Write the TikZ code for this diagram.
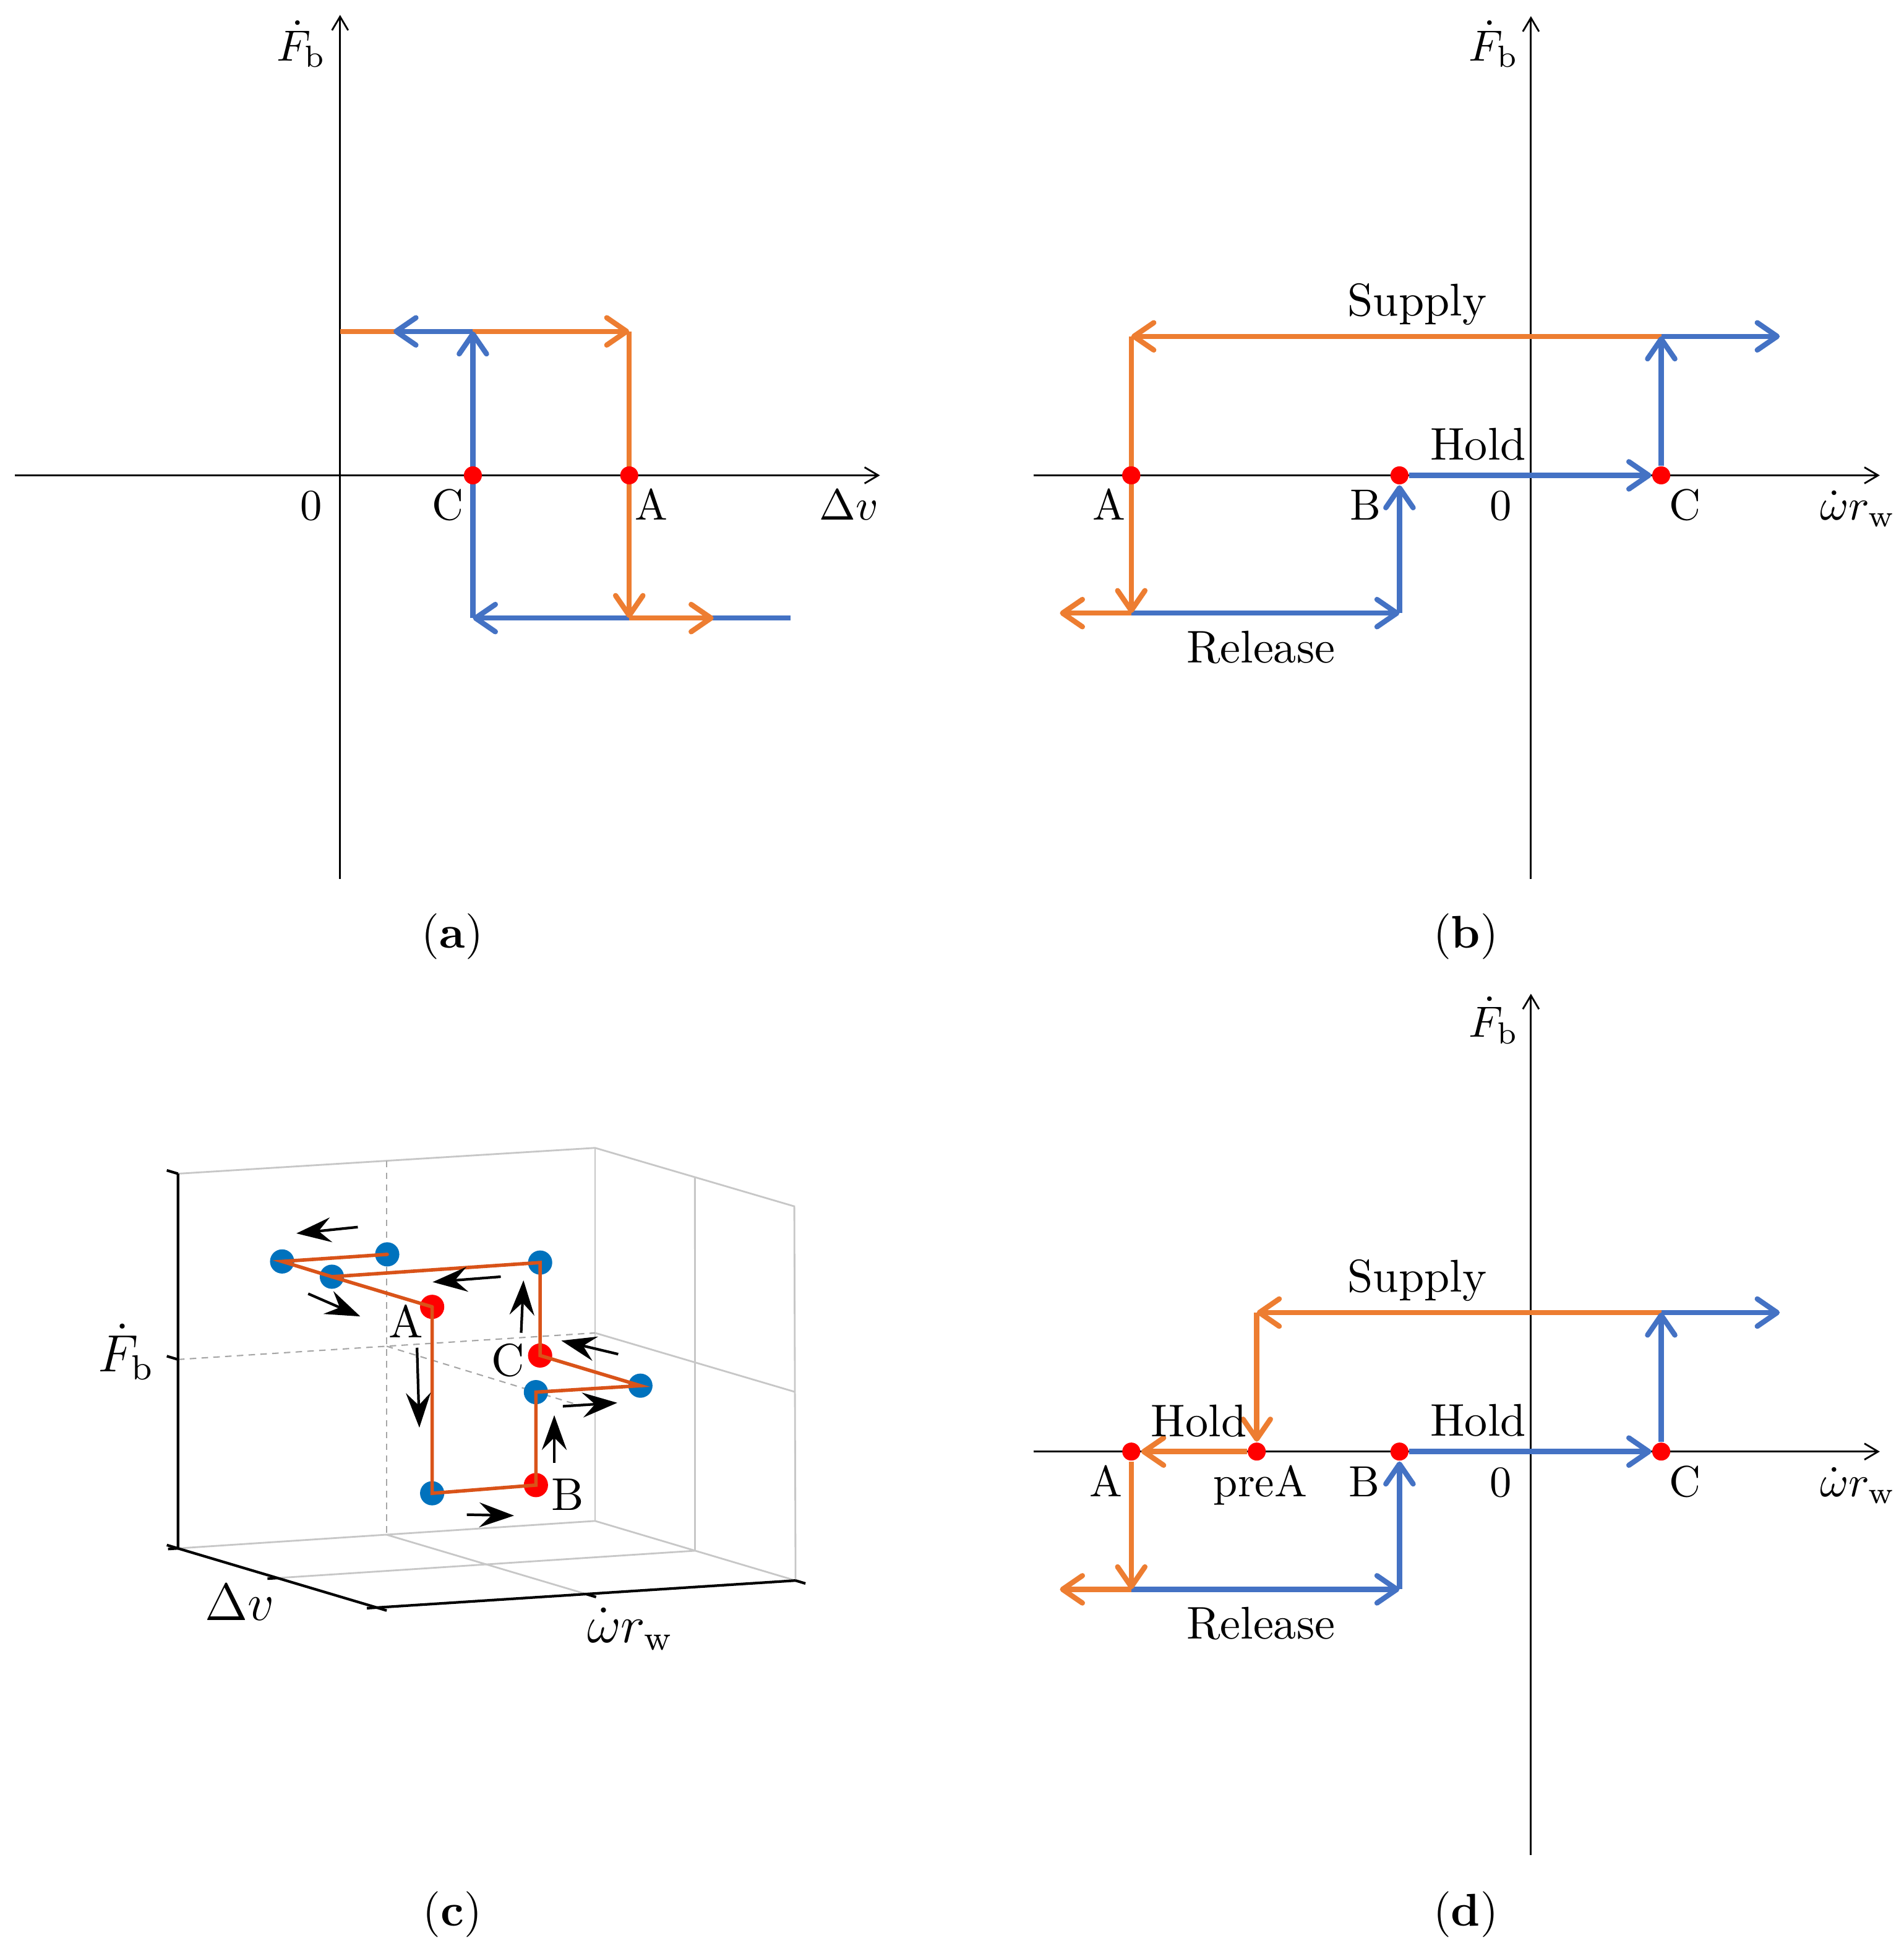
\documentclass[tikz,border=0pt]{standalone}
\usepackage{fontspec}
\usetikzlibrary{arrows.meta}
\definecolor{oblue}{HTML}{4472C4}
\definecolor{oorange}{HTML}{ED7D31}
\definecolor{mblue}{HTML}{0072BD}
\definecolor{morange}{HTML}{D95319}
\begin{document}
\begin{tikzpicture}[x=0.01cm,y=-0.01cm,
 axisline/.style={line width=0.4pt,-{Straight Barb[length=1.1mm,width=1.3mm]}},
 bluepath/.style={draw=oblue,line width=1.2pt},
 orangepath/.style={draw=oorange,line width=1.2pt},
 tipped/.style={-{Straight Barb[length=1.6mm,width=2.2mm,round]}},
 rdot/.style={circle,fill=red,inner sep=0pt,minimum size=0.145cm},
 lab/.style={anchor=base,inner sep=0pt,font=\fontsize{10}{12}\selectfont},
 word/.style={anchor=base,inner sep=0pt,font=\fontsize{10.5}{12}\selectfont},
 captext/.style={anchor=base,inner sep=0pt,font=\fontsize{10.5}{12}\selectfont},
 cbig/.style={anchor=base,inner sep=0pt,font=\fontsize{12}{14}\selectfont},
 clab/.style={anchor=base,inner sep=0pt,font=\fontsize{10.5}{12}\selectfont},
 box3d/.style={draw=black!22,line width=0.4pt},
 grid3d/.style={draw=black!35,line width=0.3pt,dash pattern=on 1.5pt off 1.2pt},
 axis3d/.style={draw=black,line width=0.6pt},
 dpath/.style={draw=morange,line width=0.8pt,line cap=round},
 bdot/.style={circle,fill=mblue,inner sep=0pt,minimum size=0.195cm},
 rdotc/.style={circle,fill=red,inner sep=0pt,minimum size=0.195cm},
 flow/.style={line width=0.6pt,-{Stealth[length=2.8mm,width=2.0mm,inset=1.0mm]}},
]
\useasboundingbox (0,0) rectangle (1534,1568);

% ================= panel (a) =================
\coordinate (aXl) at (12,383); \coordinate (aXr) at (709,383);
\coordinate (aYb) at (274,708); \coordinate (aYt) at (274,12);
\draw[axisline] (aXl) -- (aXr);
\draw[axisline] (aYb) -- (aYt);
\coordinate (aUL) at (274,267); \coordinate (aUarr) at (317,267);
\coordinate (aUC) at (381,267); \coordinate (aUA) at (507,267);
\coordinate (aLC) at (381,498); \coordinate (aLA) at (507,498);
\coordinate (aLarr) at (575,498); \coordinate (aLR) at (637,498);
\draw[bluepath,tipped] (aLR) -- (aLC);
\draw[orangepath] (aUL) -- (aUC);
\draw[orangepath,tipped] (aUC) -- (aUA);
\draw[orangepath,tipped] (aUA) -- (aLA);
\draw[orangepath,tipped] (aLA) -- (aLarr);
\draw[bluepath,tipped] (aLC) -- (aUC);
\draw[bluepath,tipped] (aUC) -- (aUarr);
\node[rdot] (aC) at (381,383) {};
\node[rdot] (aA) at (507,383) {};
\node[lab] (aFl) at (243,49) {$\dot{F}_{\mathrm{b}}$};
\node[lab] (a0) at (251,419) {0};
\node[lab] (aCl) at (361,419) {C};
\node[lab] (aAl) at (525,419) {A};
\node[lab] (aDv) at (684,419) {$\Delta v$};
\node[captext] (capA) at (364.5,764) {(\textbf{a})};

% ================= panel (b) =================
\coordinate (bXl) at (832.6,383); \coordinate (bXr) at (1514.6,383);
\coordinate (bYb) at (1233.5,708); \coordinate (bYt) at (1233.5,13);
\draw[axisline] (bXl) -- (bXr);
\draw[axisline] (bYb) -- (bYt);
\coordinate (bUA) at (911.5,271); \coordinate (bUC) at (1338.5,271); \coordinate (bUR) at (1434,271);
\coordinate (bLL) at (854,494); \coordinate (bLA) at (911.5,494); \coordinate (bLB) at (1127.6,494);
\node[rdot] (bA) at (911.5,383) {};
\node[rdot] (bB) at (1127.6,383) {};
\node[rdot] (bC) at (1338.5,383) {};
\draw[bluepath,tipped] (bLA) -- (bLB);
\draw[bluepath,tipped] (bLB) -- (bB);
\draw[bluepath,tipped] (bB) -- (bC);
\draw[orangepath,tipped] (bUC) -- (bUA);
\draw[orangepath,tipped] (bUA) -- (bLA);
\draw[orangepath,tipped] (bLA) -- (bLL);
\draw[bluepath,tipped] (bC) -- (bUC);
\draw[bluepath,tipped] (bUC) -- (bUR);
\node[rdot] (bA2) at (bA) {};
\node[lab] (bFl) at (1203.6,49) {$\dot{F}_{\mathrm{b}}$};
\node[word] (bSup) at (1141.8,254.5) {Supply};
\node[word] (bHold) at (1191,370.6) {Hold};
\node[word] (bRel) at (1015.8,533.9) {Release};
\node[lab] (bAl) at (893.6,419) {A};
\node[lab] (bBl) at (1100,419) {B};
\node[lab] (b0) at (1209.4,419) {0};
\node[lab] (bCl) at (1357.6,419) {C};
\node[lab] (bWr) at (1497,419) {$\dot{\omega} r_{\mathrm{w}}$};
\node[captext] (capB) at (1181,764) {(\textbf{b})};

% ================= panel (d) =================
\coordinate (dXl) at (832.6,1169.6); \coordinate (dXr) at (1514.6,1169.6);
\coordinate (dYb) at (1233.5,1494.6); \coordinate (dYt) at (1233.5,800.7);
\draw[axisline] (dXl) -- (dXr);
\draw[axisline] (dYb) -- (dYt);
\coordinate (dUP) at (1012.6,1057.6); \coordinate (dUC) at (1338.5,1057.6); \coordinate (dUR) at (1434,1057.6);
\coordinate (dLL) at (854,1280.6); \coordinate (dLA) at (911.5,1280.6); \coordinate (dLB) at (1127.6,1280.6);
\node[rdot] (dA) at (911.5,1169.6) {};
\node[rdot] (dP) at (1012.6,1169.6) {};
\node[rdot] (dB) at (1127.6,1169.6) {};
\node[rdot] (dC) at (1338.5,1169.6) {};
\draw[bluepath,tipped] (dLA) -- (dLB);
\draw[bluepath,tipped] (dLB) -- (dB);
\draw[bluepath,tipped] (dB) -- (dC);
\draw[orangepath,tipped] (dUC) -- (dUP);
\draw[orangepath,tipped] (dUP) -- (dP);
\draw[orangepath,tipped] (dP) -- (dA);
\draw[orangepath,tipped] (dA) -- (dLA);
\draw[orangepath,tipped] (dLA) -- (dLL);
\draw[bluepath,tipped] (dC) -- (dUC);
\draw[bluepath,tipped] (dUC) -- (dUR);
\node[lab] (dFl) at (1203.6,835.6) {$\dot{F}_{\mathrm{b}}$};
\node[word] (dSup) at (1141.8,1041.1) {Supply};
\node[word] (dHoldL) at (966,1157.5) {Hold};
\node[word] (dHoldR) at (1191,1157.2) {Hold};
\node[word] (dRel) at (1015.8,1320.5) {Release};
\node[lab] (dAl) at (891,1206) {A};
\node[lab] (dPl) at (1015.5,1206) {preA};
\node[lab] (dBl) at (1099.4,1206) {B};
\node[lab] (d0) at (1209.4,1206) {0};
\node[lab] (dCl) at (1357.6,1206) {C};
\node[lab] (dWr) at (1497,1206) {$\dot{\omega} r_{\mathrm{w}}$};
\node[captext] (capD) at (1181,1552) {(\textbf{d})};

% ================= panel (c) =================
\coordinate (ca) at (143.4,1247.6);
\coordinate (cb) at (303.6,1295.3);
\coordinate (cc) at (641,1273.5);
\coordinate (cd) at (479.5,1225.5);
\coordinate (ca') at (143.4,945.7);
\coordinate (cd') at (479.5,924.9);
\coordinate (cc') at (640,972);
% box edges
\draw[box3d] (ca') -- (cd') -- (cc') -- (cc);
\draw[box3d] (cd') -- (cd);
\draw[box3d] (ca) -- (cd) -- (cc);
% grid lines
\coordinate (gBt) at (311.5,935.3); \coordinate (gBb) at (311.5,1236.6);
\coordinate (gBl) at (143.4,1095.4); \coordinate (gBr) at (479.5,1074);
\coordinate (gRr) at (640.5,1121.5);
\coordinate (gRt) at (559.9,948.5); \coordinate (gRb) at (560,1249.5);
\coordinate (gFab) at (223.5,1271.5);
\coordinate (gFbc) at (472.3,1284.4);
\coordinate (gDs) at (311.5,1084.7); \coordinate (gDe) at (463.5,1131.3);
\draw[grid3d] (gBt) -- (gBb);
\draw[grid3d] (gBl) -- (gBr);
\draw[grid3d] (gDs) -- (gDe);
\draw[box3d] (gBr) -- (gRr);
\draw[box3d] (gRt) -- (gRb);
\draw[box3d] (gFab) -- (gRb);
\draw[box3d] (gBb) -- (gFbc);
% axes
\draw[axis3d] (ca') -- (ca) -- (cb) -- (cc);
\draw[axis3d] (ca') -- ++(-9,-2.7);
\draw[axis3d] (gBl) -- ++(-9,-2.7);
\draw[axis3d] (ca) -- ++(-9,-2.7);
\draw[axis3d] (ca) -- ++(-8,0.5);
\draw[axis3d] (gFab) -- ++(-8,0.5);
\draw[axis3d] (cb) -- ++(-8,0.5);
\draw[axis3d] (cb) -- ++(8,2.4);
\draw[axis3d] (gFbc) -- ++(8,2.4);
\draw[axis3d] (cc) -- ++(8,2.4);
\node[cbig] (cFl) at (101.5,1105.4) {$\dot{F}_{\mathrm{b}}$};
\node[cbig] (cDv) at (193,1305.7) {$\Delta v$};
\node[cbig] (cWr) at (507.6,1323.4) {$\dot{\omega} r_{\mathrm{w}}$};
% data points
\node[bdot] (p1) at (227.3,1016.4) {};
\node[bdot] (p2) at (312,1010.7) {};
\node[bdot] (p3) at (267.4,1028.7) {};
\node[bdot] (p4) at (435.2,1017.3) {};
\node[bdot] (p5) at (516,1116.5) {};
\node[bdot] (p6) at (431.8,1121.7) {};
\node[bdot] (p7) at (348.2,1203.2) {};
\node[rdotc] (pA) at (348.2,1053) {};
\node[rdotc] (pC) at (435.2,1092.2) {};
\node[rdotc] (pB) at (431.8,1196.6) {};
\draw[dpath] (p2.center) -- (p1.center) -- (p3.center) -- (pA.center);
\draw[dpath] (p3.center) -- (p4.center) -- (pC.center) -- (p5.center) -- (p6.center) -- (pB.center) -- (p7.center) -- (pA.center);
\node[clab] (cAl) at (327.3,1077.8) {A};
\node[clab] (cCl) at (409.5,1108.9) {C};
\node[clab] (cBl) at (457.3,1216.9) {B};
% flow arrows
\coordinate (f1s) at (288.3,988.7); \coordinate (f1e) at (238.8,993.8);
\coordinate (f2s) at (248.3,1042.4); \coordinate (f2e) at (290.3,1060.7);
\coordinate (f3s) at (403.5,1028.7); \coordinate (f3e) at (348.6,1033.0);
\coordinate (f4s) at (419.9,1073.9); \coordinate (f4e) at (421.8,1031.6);
\coordinate (f5s) at (498.1,1091.1); \coordinate (f5e) at (452.3,1080.2);
\coordinate (f6s) at (336.0,1085.9); \coordinate (f6e) at (337.9,1150.3);
\coordinate (f7s) at (453.5,1133.1); \coordinate (f7e) at (497.4,1130.3);
\coordinate (f8s) at (446.6,1178.9); \coordinate (f8e) at (446.6,1140.3);
\coordinate (f9s) at (376.1,1220.4); \coordinate (f9e) at (414.2,1221.2);
\draw[flow] (f1s) -- (f1e);
\draw[flow] (f2s) -- (f2e);
\draw[flow] (f3s) -- (f3e);
\draw[flow] (f4s) -- (f4e);
\draw[flow] (f5s) -- (f5e);
\draw[flow] (f6s) -- (f6e);
\draw[flow] (f7s) -- (f7e);
\draw[flow] (f8s) -- (f8e);
\draw[flow] (f9s) -- (f9e);
\node[captext] (capC) at (364.5,1552) {(\textbf{c})};
\end{tikzpicture}
\end{document}
